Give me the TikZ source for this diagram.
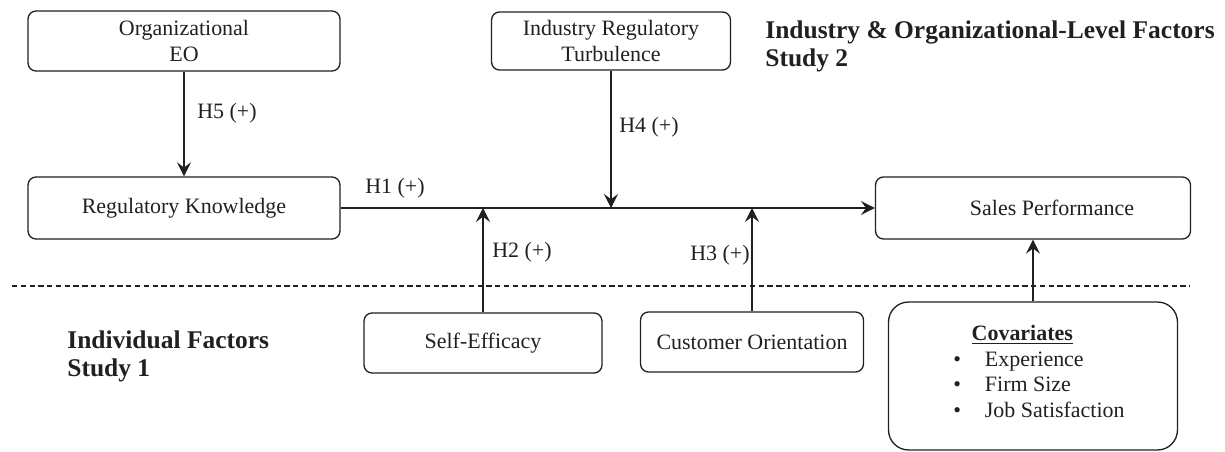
\documentclass[tikz,border=0pt]{standalone}
\usepackage{fontspec}
\setmainfont{Liberation Serif}
\usetikzlibrary{arrows.meta}
\definecolor{ink}{RGB}{35,31,32}

\begin{document}
\begin{tikzpicture}[x=0.02cm,y=-0.02cm,
    font=\fontsize{12.5}{14.6}\selectfont, color=ink,
    factor/.style={draw, line width=0.75pt, rounded corners=0.16cm, align=center, inner sep=2pt},
    hyp/.style={inner sep=0pt},
    heading/.style={font=\fontsize{14.5}{16}\selectfont\bfseries, align=left, inner sep=0pt, anchor=west},
    arr/.style={line width=0.6pt, -{Stealth[length=8pt,width=8pt,inset=3pt]}}]
  \useasboundingbox (0,0) rectangle (1225,452);

  % constructs
  \node[factor, minimum width=6.24cm, minimum height=1.2cm] (orgeo) at (184,41) {Organizational\\EO};
  \node[factor, minimum width=4.78cm, minimum height=1.16cm] (irt) at (611,41) {Industry Regulatory\\Turbulence};
  \node[factor, minimum width=6.24cm, minimum height=1.24cm] (regknow) at (184,208) {Regulatory Knowledge};
  \node[factor, minimum width=6.3cm, minimum height=1.24cm] (salesperf) at (1033,208) {\hspace*{0.76cm}Sales Performance};
  \node[factor, minimum width=4.76cm, minimum height=1.2cm] (selfeff) at (483,343) {Self-Efficacy};
  \node[factor, minimum width=4.46cm, minimum height=1.2cm] (custor) at (752,342) {Customer Orientation};
  \node[factor, minimum width=5.78cm, minimum height=2.96cm, rounded corners=0.4cm] (covar) at (1033,376) {};
  \node[inner sep=0pt] (covlist) at (1039,374) {%
    \begin{tabular}{@{}l@{\hspace{13.6pt}}l@{}}
      \multicolumn{2}{c}{\underline{\textbf{Covariates}}\hspace*{19pt}}\\
      \textbullet & Experience\\
      \textbullet & Firm Size\\
      \textbullet & Job Satisfaction
    \end{tabular}};

  % study headings
  \node[heading] (study2) at (765,46) {Industry \& Organizational-Level Factors\\Study 2};
  \node[heading] (study1) at (67,356) {Individual Factors\\Study 1};

  % level separator
  \draw[line width=0.6pt, dash pattern=on 3pt off 2pt] (12,286) -- (1190,286);

  % points on the main path
  \coordinate (h4end) at (irt.south |- regknow.east);
  \coordinate (h2end) at (selfeff.north |- regknow.east);
  \coordinate (h3end) at (custor.north |- regknow.east);

  % hypotheses
  \draw[arr] (orgeo) -- (regknow);
  \draw[arr] (regknow) -- (salesperf);
  \draw[arr] (irt) -- (h4end);
  \draw[arr] (selfeff) -- (h2end);
  \draw[arr] (custor) -- (h3end);
  \draw[arr] (covar) -- (salesperf);

  \node[hyp, anchor=west] (h5) at (197,113) {H5 (+)};
  \node[hyp, anchor=west] (h1) at (365,188) {H1 (+)};
  \node[hyp, anchor=west] (h4) at (619,127) {H4 (+)};
  \node[hyp, anchor=west] (h2) at (492,252) {H2 (+)};
  \node[hyp, anchor=east] (h3) at (750,255) {H3 (+)};
\end{tikzpicture}
\end{document}
